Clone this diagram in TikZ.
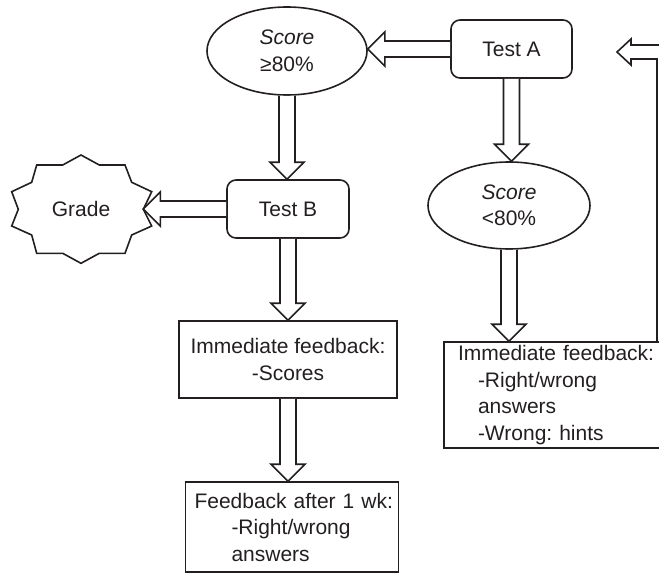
\documentclass[tikz,border=0pt]{standalone}
\usepackage{fontspec}
\setmainfont{Liberation Sans}
\usetikzlibrary{shapes.geometric,calc}
\frenchspacing
\definecolor{ink}{RGB}{35,31,32}
\tikzset{
  every node/.style={font=\fontsize{21}{26.5}\selectfont, text=ink},
  blk/.style={draw=ink, line width=1.6pt, fill=white},
  rbox/.style={draw=ink, line width=1.6pt, rounded corners=9pt, inner sep=0pt, align=center},
  sbox/.style={draw=ink, line width=1.6pt, inner sep=0pt},
  ell/.style={draw=ink, line width=1.6pt, ellipse, inner sep=0pt, align=center}
}
\newcommand\blkdown[2]{\draw[blk] let \p1=(#1), \p2=(#2) in
  (\x1-8pt,\y1) -- (\x1-8pt,\y2+17pt) -- (\x1-17pt,\y2+17pt) -- (\x1,\y2)
  -- (\x1+17pt,\y2+17pt) -- (\x1+8pt,\y2+17pt) -- (\x1+8pt,\y1);}
\newcommand\blkleft[2]{\draw[blk] let \p1=(#1), \p2=(#2) in
  (\x1,\y1+8pt) -- (\x2+17pt,\y1+8pt) -- (\x2+17pt,\y1+17pt) -- (\x2,\y1)
  -- (\x2+17pt,\y1-17pt) -- (\x2+17pt,\y1-8pt) -- (\x1,\y1-8pt);}
\begin{document}
\begin{tikzpicture}[x=1pt,y=-1pt]
\useasboundingbox (0,0) rectangle (659,573);
\clip (0,0) rectangle (659,573);

% nodes
\node[ell, minimum width=160pt, minimum height=88pt] (hi) at (287,51) {\textit{Score}\\≥80\%};
\node[rbox, minimum width=121pt, minimum height=58pt] (testA) at (511.5,49) {Test A};
\node[ell, minimum width=162pt, minimum height=87pt] (lo) at (509,205.5) {\textit{Score}\\<80\%};
\node[rbox, minimum width=122pt, minimum height=58pt] (testB) at (288,209) {Test B};
\node[sbox, minimum width=218pt, minimum height=77pt, align=center] (fbL) at (288,359.5)
  {Immediate feedback:\\-Scores};
\node[sbox, minimum width=213pt, minimum height=90pt, text width=213pt, align=left] (fbW) at (292,527)
  {\hspace*{9pt}Feedback after 1 wk:\\\hspace*{46pt}-Right/wrong\\\hspace*{46pt}answers};
\node[sbox, minimum width=240pt, minimum height=106pt, text width=240pt, align=left] (fbR) at (564,395)
  {\hspace*{14pt}Immediate feedback:\\\hspace*{34pt}-Right/wrong\\\hspace*{34pt}answers\\\hspace*{34pt}-Wrong: hints};

% grade star
\draw[draw=ink, line width=1.6pt, line join=miter]
  (81,155) -- (99.3,165) -- (125,165) -- (131.7,182.3) -- (151.7,191.7) -- (143.3,209.3)
  -- (151.7,226) -- (131.7,235) -- (125,253.3) -- (99.3,253.3) -- (81,263.3) -- (62.7,253.3)
  -- (36.7,253.3) -- (31.7,235) -- (11.7,226) -- (18.3,209.3) -- (11.7,191.7) -- (31.7,182.3)
  -- (36.7,165) -- (62.7,165) -- cycle;
\node (grade) at (81,209) {Grade};
\coordinate (gradeR) at (143.3,209.3);

% block arrows
\blkleft{testA.west}{hi.east}
\blkdown{testA.south}{lo.north}
\blkdown{hi.south}{testB.north}
\blkleft{testB.west}{gradeR}
\blkdown{testB.south}{fbL.north}
\blkdown{fbL.south}{fbW.north}
\blkdown{lo.south}{fbR.north}

% return arrow
\coordinate (ret) at (657,59);
\draw[blk, fill=none] (fbR.north -| ret) -- (ret) -- (631,59) -- (631,65) -- (617,52)
  -- (631,39) -- (631,45) -- (671,45) -- (671,342);
\end{tikzpicture}
\end{document}
